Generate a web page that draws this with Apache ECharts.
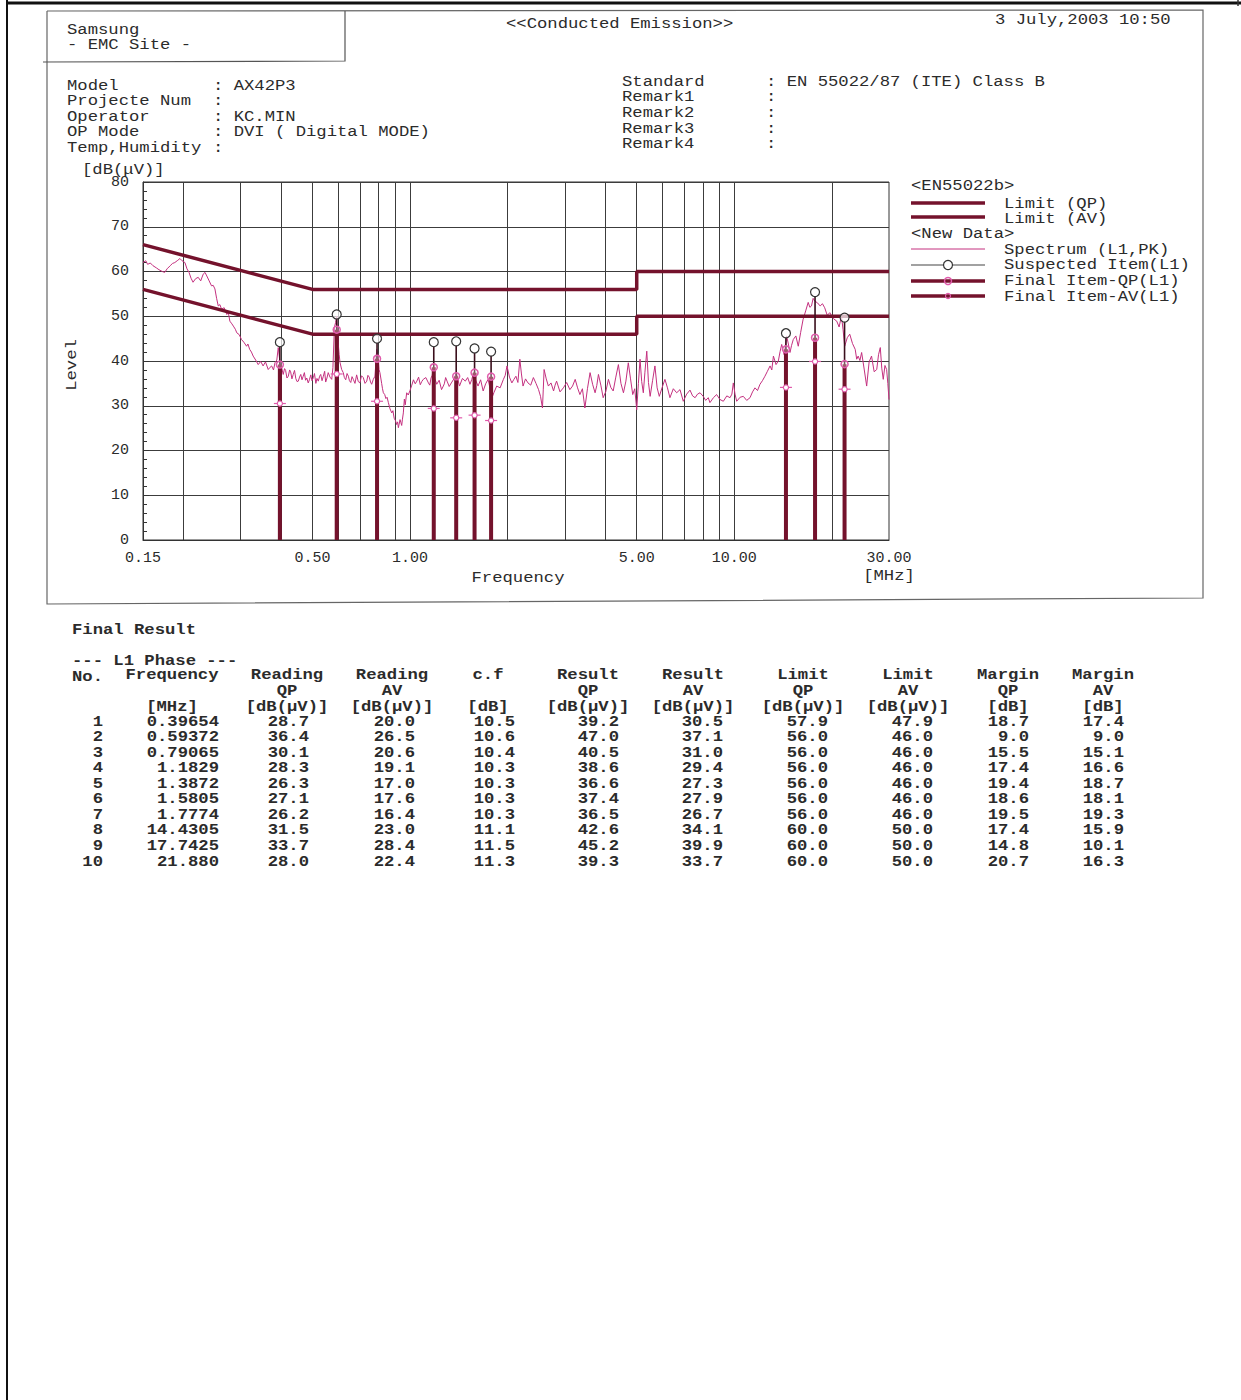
<!DOCTYPE html>
<html>
<head>
<meta charset="utf-8">
<script src="https://cdn.jsdelivr.net/npm/echarts@6/dist/echarts.min.js"></script>
<style>
html,body{margin:0;padding:0;background:#fff;}
#chart{width:1241px;height:1400px;}
</style>
</head>
<body>
<div id="chart"></div>
<script>
// ---- Spectrum trace (L1, peak detector), MHz / dB(uV) ----
const specFreq = [
  0.150,0.153,0.155,0.158,0.161,0.165,0.168,0.172,0.175,0.178,
  0.182,0.185,0.188,0.192,0.195,0.198,0.202,0.205,0.208,0.211,
  0.214,0.218,0.222,0.226,0.230,0.233,0.236,0.240,0.244,0.247,
  0.250,0.253,0.256,0.259,0.262,0.267,0.272,0.275,0.278,0.282,
  0.285,0.289,0.292,0.297,0.302,0.307,0.313,0.316,0.320,0.324,
  0.328,0.334,0.340,0.346,0.352,0.358,0.365,0.370,0.374,0.379,
  0.383,0.388,0.392,0.397,0.402,0.406,0.410,0.413,0.417,0.421,
  0.425,0.428,0.432,0.436,0.440,0.444,0.448,0.452,0.456,0.460,
  0.464,0.468,0.472,0.476,0.480,0.485,0.489,0.494,0.498,0.503,
  0.507,0.512,0.516,0.521,0.526,0.530,0.535,0.540,0.545,0.549,
  0.554,0.559,0.566,0.573,0.578,0.584,0.589,0.594,0.600,0.604,
  0.608,0.615,0.622,0.627,0.633,0.639,0.645,0.650,0.656,0.662,
  0.668,0.676,0.684,0.692,0.700,0.708,0.717,0.726,0.735,0.741,
  0.748,0.755,0.761,0.770,0.779,0.784,0.789,0.794,0.798,0.802,
  0.807,0.812,0.817,0.822,0.827,0.835,0.842,0.849,0.857,0.867,
  0.878,0.885,0.893,0.901,0.909,0.915,0.920,0.925,0.931,0.937,
  0.942,0.947,0.953,0.960,0.966,0.976,0.987,0.999,1.012,1.024,
  1.037,1.049,1.062,1.075,1.086,1.098,1.118,1.139,1.150,1.160,
  1.170,1.179,1.193,1.208,1.229,1.250,1.262,1.275,1.287,1.300,
  1.320,1.340,1.365,1.390,1.405,1.420,1.450,1.480,1.505,1.530,
  1.550,1.570,1.595,1.620,1.650,1.680,1.710,1.740,1.760,1.780,
  1.815,1.850,1.895,1.940,1.965,1.990,2.025,2.060,2.090,2.120,
  2.150,2.180,2.205,2.230,2.270,2.310,2.355,2.400,2.445,2.490,
  2.525,2.560,2.575,2.590,2.630,2.670,2.720,2.770,2.800,2.830,
  2.900,2.970,3.040,3.110,3.170,3.230,3.285,3.340,3.400,3.460,
  3.525,3.590,3.655,3.720,3.765,3.810,3.875,3.940,4.015,4.090,
  4.160,4.230,4.310,4.390,4.470,4.550,4.630,4.710,4.785,4.860,
  4.930,5.000,5.060,5.120,5.180,5.240,5.300,5.370,5.435,5.500,
  5.595,5.690,5.780,5.870,5.990,6.110,6.220,6.330,6.485,6.640,
  6.800,6.960,7.130,7.300,7.435,7.570,7.700,7.840,8.020,8.160,
  8.310,8.410,8.620,8.820,9.030,9.250,9.480,9.700,9.830,9.930,
  10.05,10.17,10.42,10.66,10.92,11.18,11.38,11.58,11.79,12.00,
  12.21,12.43,12.65,12.89,13.05,13.20,13.45,13.67,13.84,14.00,
  14.25,14.50,14.68,14.85,15.02,15.20,15.48,15.75,16.02,16.30,
  16.60,16.90,17.10,17.30,17.50,17.70,18.05,18.40,18.70,19.00,
  19.35,19.70,20.20,20.70,21.05,21.40,21.65,21.90,22.30,22.70,
  23.15,23.60,23.85,24.10,24.40,24.70,25.15,25.60,26.05,26.50,
  27.00,27.50,27.85,28.20,28.50,28.80,29.15,29.50,29.75,30.00
];
const specLevel = [
  62.0,62.4,61.6,61.9,61.3,60.8,60.4,60.0,59.8,60.6,
  61.3,61.8,62.0,62.5,62.9,62.4,62.0,60.6,59.8,58.5,
  57.6,58.4,58.7,57.9,59.4,59.8,59.0,57.9,56.8,56.9,
  56.1,54.0,52.3,52.6,51.6,51.9,50.4,50.8,48.9,48.3,
  47.8,47.1,46.3,45.9,44.8,44.2,43.3,43.8,42.6,42.0,
  41.1,40.2,39.2,39.9,38.9,39.8,38.1,38.6,38.9,38.0,
  39.6,40.2,43.0,39.6,38.4,37.0,38.3,37.9,36.2,36.6,
  38.0,37.6,36.0,37.0,37.9,36.1,35.4,35.5,36.4,37.0,
  35.8,36.6,37.4,35.7,36.2,35.1,35.8,36.9,35.6,36.3,
  37.2,35.0,36.1,35.5,36.6,37.0,35.6,36.6,37.7,35.3,
  36.2,37.4,36.4,35.9,38.5,47.5,48.6,50.0,44.0,41.5,
  39.6,38.1,37.4,36.3,35.8,37.2,36.6,35.6,35.2,36.5,
  35.9,35.0,36.9,35.4,35.1,36.7,36.3,35.0,35.5,36.8,
  36.4,35.3,34.8,35.9,36.6,39.5,42.6,41.8,40.2,38.1,
  37.4,36.2,35.0,33.8,32.9,32.5,31.6,31.9,30.7,29.3,
  28.4,28.9,27.2,26.7,25.8,26.4,25.1,25.9,26.9,26.2,
  25.6,27.0,28.4,31.5,30.2,32.9,32.4,33.4,34.6,35.8,
  34.9,35.5,36.4,34.7,35.4,35.9,36.3,35.1,34.6,36.2,
  36.8,38.1,36.0,34.8,35.7,33.6,34.2,34.9,36.3,35.5,
  34.3,35.1,36.0,37.4,35.8,34.4,36.1,35.5,36.3,34.8,
  35.9,37.4,35.6,34.4,35.8,33.3,34.9,35.9,34.2,31.4,
  33.0,34.4,34.0,35.9,36.8,38.9,36.4,35.1,35.9,36.6,
  35.2,40.4,37.1,34.4,36.0,35.1,34.6,36.3,35.0,33.6,
  32.1,29.5,33.7,38.1,36.0,34.4,35.1,33.3,34.6,35.5,
  33.1,34.0,35.2,33.6,34.4,35.9,34.0,32.5,33.8,29.5,
  33.9,37.4,34.8,32.9,34.5,37.0,34.6,31.8,33.2,35.9,
  34.1,33.3,36.4,39.2,35.0,32.9,35.5,39.6,36.0,32.5,
  33.8,29.1,35.0,40.4,35.4,32.9,37.5,42.2,35.2,32.1,
  35.6,38.9,34.0,32.1,34.1,35.9,34.0,31.8,33.8,32.9,
  33.6,31.0,32.6,33.5,32.2,31.8,32.6,32.9,32.1,31.2,
  31.8,30.7,31.8,32.5,31.4,31.0,32.2,31.8,32.6,35.1,
  32.6,31.0,31.9,32.1,31.2,31.8,33.1,34.0,33.4,34.8,
  35.6,36.6,37.7,38.9,38.0,41.1,39.2,40.0,42.1,43.7,
  41.4,45.6,43.8,41.9,43.5,44.8,45.6,43.3,46.4,49.3,
  51.2,53.1,52.0,52.3,54.0,53.4,53.0,52.3,52.8,51.9,
  50.2,50.8,49.5,48.9,47.6,50.1,47.0,43.3,45.2,46.0,
  43.9,42.6,40.4,41.1,40.1,41.9,38.2,34.4,39.8,41.1,
  37.6,38.1,41.4,43.0,38.4,35.9,39.0,38.1,35.0,31.4
];

// ---- EN 55022 Class B limits ----
const limitFreq = [0.15, 0.5, 5, 5, 30];
const limitQp = [66, 56, 56, 60, 60];
const limitAv = [56, 46, 46, 50, 50];

// ---- Final result table (L1 phase) ----
const itemNo = [1, 2, 3, 4, 5, 6, 7, 8, 9, 10];
const freqText = ['0.39654','0.59372','0.79065','1.1829','1.3872','1.5805','1.7774','14.4305','17.7425','21.880'];
const readingQp = [28.7, 36.4, 30.1, 28.3, 26.3, 27.1, 26.2, 31.5, 33.7, 28.0];
const readingAv = [20.0, 26.5, 20.6, 19.1, 17.0, 17.6, 16.4, 23.0, 28.4, 22.4];
const corrFactor = [10.5, 10.6, 10.4, 10.3, 10.3, 10.3, 10.3, 11.1, 11.5, 11.3];
const resultQp = [39.2, 47.0, 40.5, 38.6, 36.6, 37.4, 36.5, 42.6, 45.2, 39.3];
const resultAv = [30.5, 37.1, 31.0, 29.4, 27.3, 27.9, 26.7, 34.1, 39.9, 33.7];
const limitQpAt = [57.9, 56.0, 56.0, 56.0, 56.0, 56.0, 56.0, 60.0, 60.0, 60.0];
const limitAvAt = [47.9, 46.0, 46.0, 46.0, 46.0, 46.0, 46.0, 50.0, 50.0, 50.0];
const marginQp = [18.7, 9.0, 15.5, 17.4, 19.4, 18.6, 19.5, 17.4, 14.8, 20.7];
const marginAv = [17.4, 9.0, 15.1, 16.6, 18.7, 18.1, 19.3, 15.9, 10.1, 16.3];
// peak level of each suspected item found in the pre-scan
const suspectLevel = [44.2, 50.4, 45.0, 44.2, 44.4, 42.8, 42.1, 46.2, 55.4, 49.7];
const itemFreq = freqText.map(Number);

// ---- Axis ticks ----
const freqLabelTicks = [0.15, 0.5, 1, 5, 10, 30];
const freqGridTicks = [0.2,0.3,0.4,0.5,0.6,0.7,0.8,0.9,1,2,3,4,5,6,7,8,9,10,20];

const MONO = '"Liberation Mono", "DejaVu Sans Mono", monospace';
const INK = '#2b2b2b';
const MAROON = '#74122c';
const PINK = '#c4307f';
const PINK_MARK = '#e05aab';

function txt(text, x, y, o) {
  o = o || {};
  const align = o.align || 'left';
  return {
    type: 'text', x: x, y: y, scaleX: o.scaleX || 1.23, rotation: o.rotation || 0, z: 50,
    style: {
      text: text,
      font: (o.bold ? 'bold ' : '') + (o.size || 14) + 'px ' + MONO,
      fill: o.color || INK,
      align: align, textAlign: align,
      verticalAlign: 'middle', textVerticalAlign: 'middle'
    }
  };
}
function hline(x1, x2, y, w, c) {
  return { type: 'line', z: 40, shape: { x1: x1, y1: y, x2: x2, y2: y }, style: { stroke: c, lineWidth: w } };
}

const g = [];
// page border and report frame
g.push({ type: 'line', z: 40, shape: { x1: 7, y1: 0, x2: 7, y2: 1400 }, style: { stroke: '#111', lineWidth: 2 } });
g.push({ type: 'line', z: 40, shape: { x1: 7, y1: 3, x2: 1241, y2: 3 }, style: { stroke: '#111', lineWidth: 3 } });
g.push({ type: 'line', z: 40, shape: { x1: 1238, y1: 0, x2: 1238, y2: 6 }, style: { stroke: '#333', lineWidth: 1.5 } });
g.push({ type: 'polyline', z: 40, shape: { points: [[47, 11], [1203, 10], [1203, 598], [47, 604], [47, 11]] },
  style: { stroke: '#666', lineWidth: 1.2, fill: null } });
g.push({ type: 'polyline', z: 40, shape: { points: [[43, 62], [345, 61], [345, 11]] },
  style: { stroke: '#555', lineWidth: 1.2, fill: null } });

// report header
g.push(txt('Samsung', 67, 30));
g.push(txt('- EMC Site -', 67, 45));
g.push(txt('<<Conducted Emission>>', 506, 24));
g.push(txt('3 July,2003 10:50', 995, 20));
const infoLeft = [['Model', 86, ': AX42P3'], ['Projecte Num', 101, ':'], ['Operator', 117, ': KC.MIN'],
  ['OP Mode', 132, ': DVI ( Digital MODE)'], ['Temp,Humidity', 148, ':']];
infoLeft.forEach(r => { g.push(txt(r[0], 67, r[1])); g.push(txt(r[2], 213, r[1])); });
const infoRight = [['Standard', 82, ': EN 55022/87 (ITE) Class B'], ['Remark1', 97, ':'], ['Remark2', 113, ':'],
  ['Remark3', 129, ':'], ['Remark4', 144, ':']];
infoRight.forEach(r => { g.push(txt(r[0], 622, r[1])); g.push(txt(r[2], 766, r[1])); });

// axis captions
g.push(txt('[dB(\u03bcV)]', 82, 170));
g.push(txt('Level', 72, 365, { align: 'center', rotation: Math.PI / 2 }));
g.push(txt('Frequency', 518, 578, { align: 'center' }));
g.push(txt('[MHz]', 889, 576, { align: 'center' }));

// legend block
g.push(txt('<EN55022b>', 911, 186));
g.push(hline(911, 985, 203, 3.5, MAROON)); g.push(txt('Limit (QP)', 1004, 204));
g.push(hline(911, 985, 217, 3.5, MAROON)); g.push(txt('Limit (AV)', 1004, 219));
g.push(txt('<New Data>', 911, 234));
g.push(hline(911, 985, 249, 1, PINK)); g.push(txt('Spectrum (L1,PK)', 1004, 250));
g.push(hline(911, 985, 265, 1.2, '#444'));
g.push({ type: 'circle', z: 41, shape: { cx: 948, cy: 265, r: 4.5 }, style: { stroke: '#333', fill: '#fff', lineWidth: 1.2 } });
g.push(txt('Suspected Item(L1)', 1004, 265));
g.push(hline(911, 985, 281, 3.5, MAROON));
g.push({ type: 'circle', z: 41, shape: { cx: 948, cy: 281, r: 3.5 }, style: { stroke: PINK_MARK, fill: null, lineWidth: 1.5 } });
g.push(txt('Final Item-QP(L1)', 1004, 281));
g.push(hline(911, 985, 296, 3.5, MAROON));
g.push({ type: 'circle', z: 41, shape: { cx: 948, cy: 296, r: 2.5 }, style: { stroke: PINK_MARK, fill: null, lineWidth: 1.2 } });
g.push(txt('Final Item-AV(L1)', 1004, 297));

// final result table
g.push(txt('Final Result', 72, 630, { bold: true }));
g.push(txt('--- L1 Phase ---', 72, 661, { bold: true }));
const colCenter = [172, 287, 392, 488, 588, 693, 803, 908, 1008, 1103];
const head1 = ['Frequency', 'Reading', 'Reading', 'c.f', 'Result', 'Result', 'Limit', 'Limit', 'Margin', 'Margin'];
const head2 = ['', 'QP', 'AV', '', 'QP', 'AV', 'QP', 'AV', 'QP', 'AV'];
const head3 = ['[MHz]', '[dB(\u03bcV)]', '[dB(\u03bcV)]', '[dB]', '[dB(\u03bcV)]', '[dB(\u03bcV)]', '[dB(\u03bcV)]', '[dB(\u03bcV)]', '[dB]', '[dB]'];
g.push(txt('No.', 72, 677, { bold: true }));
colCenter.forEach((c, i) => {
  g.push(txt(head1[i], c, 675, { align: 'center', bold: true }));
  if (head2[i]) g.push(txt(head2[i], c, 691, { align: 'center', bold: true }));
  g.push(txt(head3[i], c, 707, { align: 'center', bold: true }));
});
const colRight = [103, 219, 309, 415, 515, 619, 723, 828, 933, 1029, 1124];
const colData = [itemNo.map(String), freqText,
  readingQp.map(v => v.toFixed(1)), readingAv.map(v => v.toFixed(1)), corrFactor.map(v => v.toFixed(1)),
  resultQp.map(v => v.toFixed(1)), resultAv.map(v => v.toFixed(1)),
  limitQpAt.map(v => v.toFixed(1)), limitAvAt.map(v => v.toFixed(1)),
  marginQp.map(v => v.toFixed(1)), marginAv.map(v => v.toFixed(1))];
itemNo.forEach((n, r) => {
  const y = 722 + r * 15.56;
  colData.forEach((col, c) => g.push(txt(col[r], colRight[c], y, { align: 'right', bold: true })));
});

// ---- marks drawn on the frequency / level scales ----
function stemItem(params, api) {
  const f = api.value(0), v = api.value(1);
  const p0 = api.coord([f, 0]), p1 = api.coord([f, v]);
  return { type: 'group', children: [
    { type: 'line', shape: { x1: p0[0], y1: p0[1], x2: p1[0], y2: p1[1] + 4 }, style: { stroke: '#3a0f1c', lineWidth: 1.6 } },
    { type: 'circle', shape: { cx: p1[0], cy: p1[1], r: 4.5 }, style: { stroke: '#333', fill: 'rgba(255,255,255,0.7)', lineWidth: 1.2 } }
  ] };
}
function qpItem(params, api) {
  const f = api.value(0), v = api.value(1);
  const p0 = api.coord([f, 0]), p1 = api.coord([f, v]);
  return { type: 'group', children: [
    { type: 'line', shape: { x1: p0[0], y1: p0[1], x2: p1[0], y2: p1[1] }, style: { stroke: MAROON, lineWidth: 4 } },
    { type: 'circle', shape: { cx: p1[0], cy: p1[1], r: 3.5 }, style: { stroke: PINK_MARK, fill: 'rgba(255,255,255,0.3)', lineWidth: 1.5 } }
  ] };
}
function avItem(params, api) {
  const p = api.coord([api.value(0), api.value(1)]);
  return { type: 'group', children: [
    { type: 'line', shape: { x1: p[0] - 6, y1: p[1], x2: p[0] + 6, y2: p[1] }, style: { stroke: PINK_MARK, lineWidth: 1.2 } },
    { type: 'circle', shape: { cx: p[0], cy: p[1], r: 2.6 }, style: { stroke: PINK_MARK, fill: '#fff', lineWidth: 1.2 } }
  ] };
}

const zip = (a, b) => a.map((v, i) => [v, b[i]]);

const option = {
  animation: false,
  backgroundColor: '#fff',
  grid: { left: 143, top: 182, width: 746, height: 358, show: true, borderColor: '#333', borderWidth: 1 },
  xAxis: {
    type: 'log', logBase: 10, min: 0.15, max: 30,
    axisLine: { show: true, lineStyle: { color: '#333', width: 1 } },
    axisTick: { show: false, customValues: freqGridTicks },
    splitLine: { show: true, lineStyle: { color: '#3c3c3c', width: 1 } },
    minorTick: { show: false }, minorSplitLine: { show: false },
    axisLabel: {
      customValues: freqLabelTicks.map((v, i) => i === 0 ? v * 1.000001 : (i === freqLabelTicks.length - 1 ? v * 0.999999 : v)),
      formatter: v => Number(v).toFixed(2),
      fontFamily: MONO, fontSize: 15, color: INK, margin: 11
    }
  },
  yAxis: {
    type: 'value', min: 0, max: 80, interval: 10,
    axisLine: { show: true, lineStyle: { color: '#333' } },
    axisTick: { show: true, inside: true, length: 6, lineStyle: { color: '#333' } },
    minorTick: { show: true, splitNumber: 5, length: 4, lineStyle: { color: '#333' } },
    splitLine: { show: true, lineStyle: { color: '#3c3c3c', width: 1 } },
    axisLabel: { fontFamily: MONO, fontSize: 15, color: INK, margin: 14 }
  },
  series: [
    { name: 'Spectrum (L1,PK)', type: 'line', data: zip(specFreq, specLevel), showSymbol: false, z: 3,
      lineStyle: { color: PINK, width: 1 } },
    { name: 'Limit (QP)', type: 'line', data: zip(limitFreq, limitQp), showSymbol: false, z: 4,
      lineStyle: { color: MAROON, width: 3.5 } },
    { name: 'Limit (AV)', type: 'line', data: zip(limitFreq, limitAv), showSymbol: false, z: 4,
      lineStyle: { color: MAROON, width: 3.5 } },
    { name: 'Suspected Item(L1)', type: 'custom', data: zip(itemFreq, suspectLevel), renderItem: stemItem, z: 5,
      encode: { x: 0, y: 1 } },
    { name: 'Final Item-QP(L1)', type: 'custom', data: zip(itemFreq, resultQp), renderItem: qpItem, z: 6,
      encode: { x: 0, y: 1 } },
    { name: 'Final Item-AV(L1)', type: 'custom', data: zip(itemFreq, resultAv), renderItem: avItem, z: 7,
      encode: { x: 0, y: 1 } }
  ],
  graphic: { elements: g }
};

const chart = echarts.init(document.getElementById('chart'), null, { renderer: 'svg', width: 1241, height: 1400 });
chart.setOption(option);
</script>
</body>
</html>
